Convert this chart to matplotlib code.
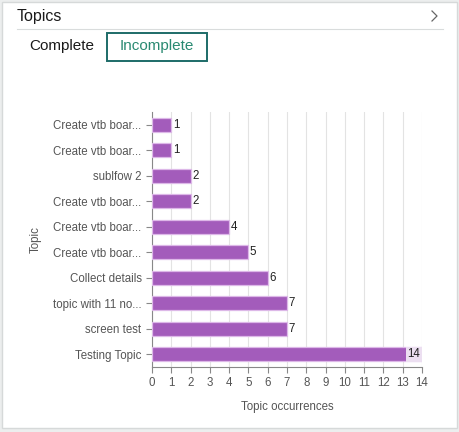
import matplotlib.pyplot as plt
from matplotlib.patches import Rectangle

plt.rcParams['font.family'] = ['Liberation Sans', 'DejaVu Sans']

# data
topics = ["Create vtb boar...", "Create vtb boar...", "sublfow 2", "Create vtb boar...",
          "Create vtb boar...", "Create vtb boar...", "Collect details",
          "topic with 11 no...", "screen test", "Testing Topic"]
occurrences = [1, 1, 2, 2, 4, 5, 6, 7, 7, 14]
x_ticks = list(range(0, 15))

W, H = 459, 432
fig = plt.figure(figsize=(W / 100, H / 100), dpi=100)
fig.patch.set_facecolor('#eceeee')

# card background (kept behind the chart)
card = Rectangle((2 / W, 1 - 428 / H), 455 / W, 426 / H, transform=fig.transFigure,
                 facecolor='white', edgecolor='#d6d9d9', linewidth=1, zorder=-5)
fig.add_artist(card)

# header
fig.text(17 / W, 1 - 16 / H, "Topics", fontsize=11.5, color='#1a1a1a', va='center', ha='left')
# thin chevron
fig.add_artist(plt.Line2D([432 / W, 437 / W, 432 / W], [1 - 11 / H, 1 - 16 / H, 1 - 21 / H],
                          transform=fig.transFigure, color='#666666', linewidth=0.9, zorder=-4))
fig.add_artist(plt.Line2D([17 / W, 443 / W], [1 - 29 / H, 1 - 29 / H],
                          transform=fig.transFigure, color='#d9dcdc', linewidth=0.8, zorder=-4))

# tabs
fig.text(62 / W, 1 - 46 / H, "Complete", fontsize=11, color='#1a1a1a', va='center', ha='center')
tab = Rectangle((107 / W, 1 - 61 / H), 100 / W, 28 / H, transform=fig.transFigure,
                facecolor='white', edgecolor='#1d6b68', linewidth=1.4, zorder=-4)
fig.add_artist(tab)
fig.text(157 / W, 1 - 46 / H, "Incomplete", fontsize=11, color='#2a8a72', va='center', ha='center')

# chart
ax = fig.add_axes([152 / W, 1 - 367 / H, 270 / W, 255 / H])
ax.set_zorder(2)
ax.patch.set_alpha(0)
ypos = list(range(len(topics)))
ax.barh(ypos, occurrences, height=0.56, color='#a35cbb', edgecolor='#ddb8e8', linewidth=0.9, zorder=3)
ax.set_ylim(len(topics) - 0.5, -0.5)
ax.set_xlim(0, 14)
ax.set_xticks(x_ticks)
ax.set_yticks(ypos)
ax.set_yticklabels(topics)
ax.grid(axis='x', color='#e3e3e3', linewidth=0.8, zorder=0)
for side in ['top', 'right']:
    ax.spines[side].set_visible(False)
for side in ['left', 'bottom']:
    ax.spines[side].set_color('#888888')
    ax.spines[side].set_linewidth(0.8)
ax.tick_params(axis='both', colors='#888888', labelcolor='#555555', labelsize=8.3,
               length=4, width=0.8)
ax.set_xlabel("Topic occurrences", fontsize=8.3, color='#555555', labelpad=8)
ax.set_ylabel("Topic", fontsize=8.3, color='#555555', labelpad=8)

for y, v in zip(ypos, occurrences):
    if v >= 14:
        ax.text(v - 0.08, y, str(v), fontsize=8.3, color='#222222', va='center', ha='right', zorder=4,
                bbox=dict(boxstyle='square,pad=0.15', facecolor='#ecdff1', edgecolor='none'))
    else:
        ax.text(v + 0.08, y, str(v), fontsize=8.3, color='#222222', va='center', ha='left', zorder=4)

fig.savefig('out.png', dpi=100, facecolor=fig.get_facecolor())
